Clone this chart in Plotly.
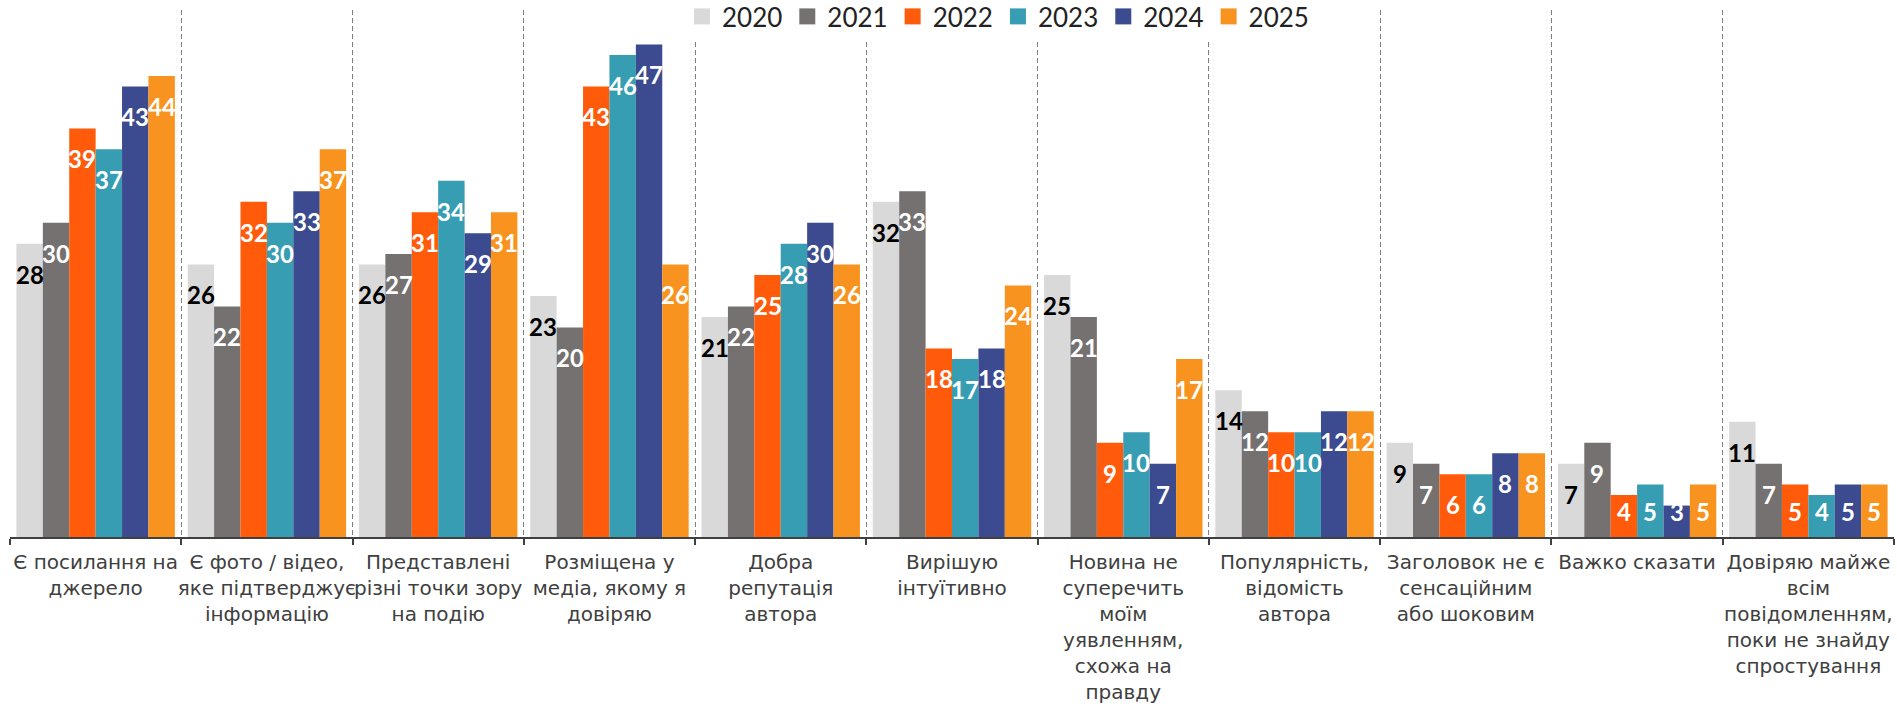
import plotly.graph_objects as go

# Survey answers (category labels as drawn, with line breaks)
categories = [
    "Є посилання на<br>джерело",
    "Є фото / відео,<br>яке підтверджує<br>інформацію",
    "Представлені<br>різні точки зору<br>на подію",
    "Розміщена у<br>медіа, якому я<br>довіряю",
    "Добра<br>репутація<br>автора",
    "Вирішую<br>інтуїтивно",
    "Новина не<br>суперечить<br>моїм<br>уявленням,<br>схожа на<br>правду",
    "Популярність,<br>відомість<br>автора",
    "Заголовок не є<br>сенсаційним<br>або шоковим",
    "Важко сказати",
    "Довіряю майже<br>всім<br>повідомленням,<br>поки не знайду<br>спростування",
]

years = ["2020", "2021", "2022", "2023", "2024", "2025"]

v2020 = [28, 26, 26, 23, 21, 32, 25, 14, 9, 7, 11]
v2021 = [30, 22, 27, 20, 22, 33, 21, 12, 7, 9, 7]
v2022 = [39, 32, 31, 43, 25, 18, 9, 10, 6, 4, 5]
v2023 = [37, 30, 34, 46, 28, 17, 10, 10, 6, 5, 4]
v2024 = [43, 33, 29, 47, 30, 18, 7, 12, 8, 3, 5]
v2025 = [44, 37, 31, 26, 26, 24, 17, 12, 8, 5, 5]

series = [v2020, v2021, v2022, v2023, v2024, v2025]
colors = ["#D9D9D9", "#767171", "#FF5B0B", "#369DB3", "#3C4A8F", "#F7931E"]
label_colors = ["#000000", "#FFFFFF", "#FFFFFF", "#FFFFFF", "#FFFFFF", "#FFFFFF"]

# Layout geometry
W, H = 1897, 707
M_L, M_R, M_T, M_B = 10, 3, 10, 170
BARGAP = 0.075
Y_MAX = 50.3
plot_w = W - M_L - M_R
bar_px = plot_w / len(categories) * (1 - BARGAP) / len(years)

# Value labels sit a fixed distance under the bar top, but never lower
# than a floor just above the axis.
LABEL_DROP = 2.9
LABEL_FLOOR = 2.4

fig = go.Figure()

for name, vals, col in zip(years, series, colors):
    fig.add_trace(go.Bar(
        x=categories, y=vals, name=name,
        marker=dict(color=col, line=dict(width=0)),
        showlegend=False, hoverinfo="skip",
    ))

# Legend entries with larger square swatches
for name, col in zip(years, colors):
    fig.add_trace(go.Scatter(
        x=[None], y=[None], name=name, mode="markers",
        marker=dict(symbol="square", size=16, color=col),
        showlegend=True,
    ))

annotations = []
for i, (vals, lc) in enumerate(zip(series, label_colors)):
    for cat, v in zip(categories, vals):
        annotations.append(dict(
            x=cat, y=max(v - LABEL_DROP, LABEL_FLOOR),
            xref="x", yref="y",
            xshift=(i - (len(years) - 1) / 2) * bar_px,
            text=str(v), showarrow=False,
            xanchor="center", yanchor="middle",
            font=dict(family="Lato", size=24, color=lc, weight="bold"),
        ))

fig.update_layout(
    width=W, height=H,
    margin=dict(l=M_L, r=M_R, t=M_T, b=M_B, autoexpand=False),
    paper_bgcolor="white", plot_bgcolor="white",
    barmode="group", bargap=BARGAP, bargroupgap=0,
    annotations=annotations,
    legend=dict(
        orientation="h", x=0.5244, xanchor="center",
        y=1 + 17 / (H - M_T - M_B), yanchor="top",
        font=dict(family="Lato", size=26, color="#222222"),
        bgcolor="white", traceorder="normal",
    ),
    xaxis=dict(
        type="category",
        tickson="boundaries",
        ticks="outside", ticklen=6, tickwidth=1.5, tickcolor="#404040",
        showline=True, linecolor="#404040", linewidth=2,
        showgrid=True, gridcolor="#7F7F7F", gridwidth=1, griddash="5px,3px",
        tickfont=dict(family="DejaVu Sans", size=20, color="#404040"),
        tickangle=0,
        ticklabelstandoff=6,
    ),
    yaxis=dict(
        range=[0, Y_MAX], visible=False, showgrid=False, zeroline=False,
    ),
)

fig.write_html("out.html")
